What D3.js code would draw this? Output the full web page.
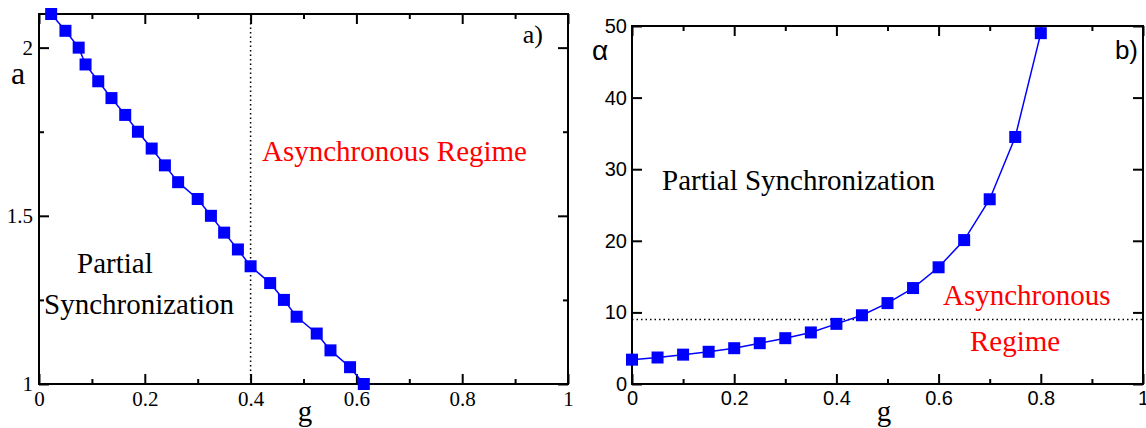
<!DOCTYPE html>
<html>
<head>
<meta charset="utf-8">
<script src="https://cdn.jsdelivr.net/npm/d3@7"></script>
<style>
    body { margin: 0; background: #fff; }
    svg { display: block; }
</style>
</head>
<body>
<div id="chart"></div>
<script>
// panel a) : threshold a vs g
const gA = [0.023, 0.05, 0.075, 0.088, 0.112, 0.137, 0.163, 0.187, 0.213, 0.238, 0.263, 0.3,
    0.325, 0.35, 0.376, 0.4, 0.437, 0.463, 0.487, 0.525, 0.551, 0.588, 0.614];
const aValues = [2.1, 2.05, 2.0, 1.95, 1.9, 1.85, 1.8, 1.75, 1.7, 1.65, 1.6, 1.55,
    1.5, 1.45, 1.4, 1.35, 1.3, 1.25, 1.2, 1.15, 1.1, 1.05, 1.0];

// panel b) : alpha vs g
const gB = [0, 0.05, 0.1, 0.15, 0.2, 0.25, 0.3, 0.35, 0.4, 0.45, 0.5, 0.55, 0.6, 0.65, 0.7, 0.75, 0.8];
const alphaValues = [3.4, 3.7, 4.1, 4.5, 5.0, 5.7, 6.4, 7.2, 8.4, 9.6, 11.3, 13.4, 16.3, 20.1, 25.8, 34.5, 49];

const xMajor = [0, 0.2, 0.4, 0.6, 0.8, 1];
const xMajorLabels = ['0', '0.2', '0.4', '0.6', '0.8', '1'];
const xMinor = [0.1, 0.3, 0.5, 0.7, 0.9];
const aMajor = [1, 1.5, 2];
const aMajorLabels = ['1', '1.5', '2'];
const aMinor = [1.25, 1.75];
const alphaMajor = [0, 10, 20, 30, 40, 50];

const gDashA = 0.4;
const alphaDashB = 9;

const SERIF = '"Liberation Serif", "Times New Roman", serif';
const SANS = '"Liberation Sans", Arial, sans-serif';

const svg = d3.select('#chart').append('svg')
    .attr('width', 1146)
    .attr('height', 428);

function drawPanel(opts) {
    const g = svg.append('g');
    const x = d3.scaleLinear().domain([0, 1]).range([opts.left, opts.right]);
    const y = d3.scaleLinear().domain(opts.yDomain).range([opts.bottom, opts.top]);
    const w = opts.right - opts.left;
    const h = opts.bottom - opts.top;

    // minor ticks first, then majors with labels
    const addAxis = (axis, transform, values, size, labels, padding) => {
        const a = axis.tickValues(values).tickSizeOuter(0).tickSizeInner(size).tickPadding(padding || 6);
        a.tickFormat((d, i) => labels ? labels[i] : '');
        const sel = g.append('g').attr('transform', transform).call(a);
        sel.attr('font-family', null).attr('font-size', null);
        sel.select('.domain').remove();
        sel.selectAll('line').attr('stroke', '#000').attr('stroke-width', 2);
        sel.selectAll('text')
            .attr('fill', '#000')
            .style('font-family', opts.font)
            .style('font-size', opts.tickFont + 'px');
        return sel;
    };

    addAxis(d3.axisBottom(x), `translate(0,${opts.bottom})`, xMinor, -5, null);
    addAxis(d3.axisBottom(x), `translate(0,${opts.bottom})`, xMajor, -10, xMajorLabels, 7);
    addAxis(d3.axisTop(x), `translate(0,${opts.top})`, xMinor, -5, null);
    addAxis(d3.axisTop(x), `translate(0,${opts.top})`, xMajor, -10, null);

    if (opts.yMinor) {
        addAxis(d3.axisLeft(y), `translate(${opts.left},0)`, opts.yMinor, -5, null);
        addAxis(d3.axisRight(y), `translate(${opts.right},0)`, opts.yMinor, -5, null);
    }
    addAxis(d3.axisLeft(y), `translate(${opts.left},0)`, opts.yMajor, -10, opts.yLabels, opts.yPad);
    addAxis(d3.axisRight(y), `translate(${opts.right},0)`, opts.yMajor, -10, null);

    g.append('rect')
        .attr('x', opts.left).attr('y', opts.top)
        .attr('width', w).attr('height', h)
        .attr('fill', 'none').attr('stroke', '#000').attr('stroke-width', 2);

    return {g, x, y};
}

// ---- panel a)
const pa = drawPanel({
    left: 39, right: 568, top: 14, bottom: 384,
    yDomain: [1, 2.1], yMajor: aMajor, yLabels: aMajorLabels, yMinor: aMinor,
    font: SERIF, tickFont: 21, yPad: 6
});

pa.g.append('line')
    .attr('x1', pa.x(gDashA)).attr('x2', pa.x(gDashA))
    .attr('y1', pa.y(2.1)).attr('y2', pa.y(1))
    .attr('stroke', '#000').attr('stroke-width', 1.5).attr('stroke-dasharray', '1.5,3');

const ptsA = gA.map((d, i) => [d, aValues[i]]);
pa.g.append('path')
    .datum(ptsA)
    .attr('d', d3.line().x(d => pa.x(d[0])).y(d => pa.y(d[1])))
    .attr('fill', 'none').attr('stroke', '#0000ff').attr('stroke-width', 1.5);
pa.g.selectAll('rect.pt')
    .data(ptsA).enter().append('rect')
    .attr('class', 'pt')
    .attr('x', d => pa.x(d[0]) - 6).attr('y', d => pa.y(d[1]) - 6)
    .attr('width', 12).attr('height', 12)
    .attr('fill', '#0000ff');

const textA = [
    {t: 'a)', x: 543, y: 43, size: 26, anchor: 'end', color: '#000', font: SERIF},
    {t: 'a', x: 18, y: 84, size: 32, anchor: 'middle', color: '#000', font: SERIF},
    {t: 'g', x: 305, y: 421, size: 29, anchor: 'middle', color: '#000', font: SERIF},
    {t: 'Asynchronous Regime', x: 262, y: 161, size: 29, anchor: 'start', color: '#ff0000', font: SERIF},
    {t: 'Partial', x: 77, y: 273, size: 29, anchor: 'start', color: '#000', font: SERIF},
    {t: 'Synchronization', x: 44, y: 314, size: 29, anchor: 'start', color: '#000', font: SERIF}
];

// ---- panel b)
const pb = drawPanel({
    left: 632, right: 1143, top: 26, bottom: 384,
    yDomain: [0, 50], yMajor: alphaMajor, yLabels: alphaMajor.map(String), yMinor: null,
    font: SANS, tickFont: 20, yPad: 5
});

pb.g.append('line')
    .attr('x1', pb.x(0)).attr('x2', pb.x(1))
    .attr('y1', pb.y(alphaDashB)).attr('y2', pb.y(alphaDashB))
    .attr('stroke', '#000').attr('stroke-width', 1.5).attr('stroke-dasharray', '1.5,3');

const ptsB = gB.map((d, i) => [d, alphaValues[i]]);
pb.g.append('path')
    .datum(ptsB)
    .attr('d', d3.line().x(d => pb.x(d[0])).y(d => pb.y(d[1])))
    .attr('fill', 'none').attr('stroke', '#0000ff').attr('stroke-width', 1.5);
pb.g.selectAll('rect.pt')
    .data(ptsB).enter().append('rect')
    .attr('class', 'pt')
    .attr('x', d => pb.x(d[0]) - 6).attr('y', d => pb.y(d[1]) - 6)
    .attr('width', 12).attr('height', 12)
    .attr('fill', '#0000ff');

const textB = [
    {t: 'b)', x: 1138, y: 59, size: 26, anchor: 'end', color: '#000', font: SANS},
    {t: '\u03b1', x: 600, y: 60, size: 28, anchor: 'middle', color: '#000', font: SANS},
    {t: 'g', x: 884, y: 421, size: 29, anchor: 'middle', color: '#000', font: SERIF},
    {t: 'Partial Synchronization', x: 662, y: 190, size: 29, anchor: 'start', color: '#000', font: SERIF},
    {t: 'Asynchronous', x: 943, y: 305, size: 29, anchor: 'start', color: '#ff0000', font: SERIF},
    {t: 'Regime', x: 970, y: 351, size: 29, anchor: 'start', color: '#ff0000', font: SERIF}
];

textA.concat(textB).forEach(d => {
    svg.append('text')
        .attr('x', d.x).attr('y', d.y)
        .attr('text-anchor', d.anchor)
        .attr('fill', d.color)
        .style('font-family', d.font)
        .style('font-size', d.size + 'px')
        .text(d.t);
});
</script>
</body>
</html>
